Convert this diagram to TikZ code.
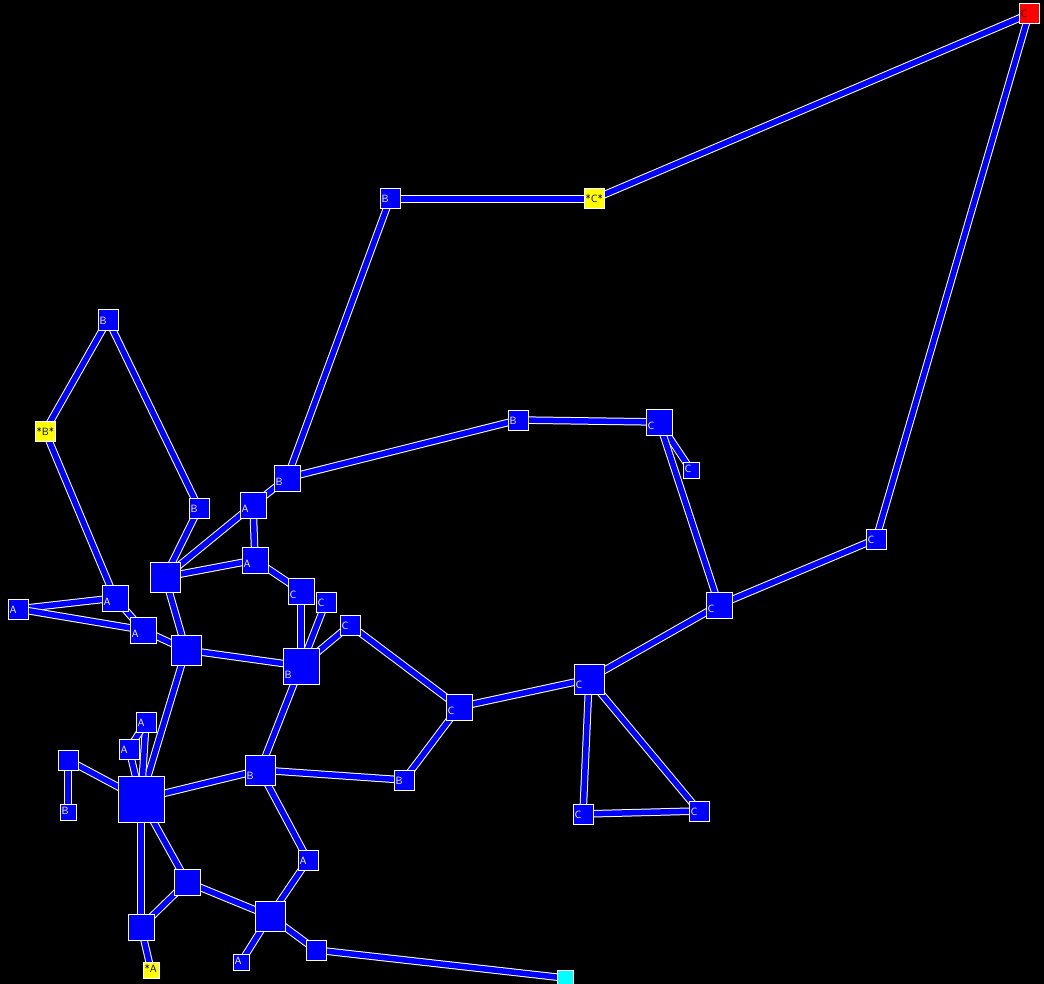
\documentclass[tikz,border=0pt]{standalone}
\usepackage{tikz}
\usetikzlibrary{positioning}
\definecolor{gBlue}{HTML}{0000FF}
\definecolor{gYellow}{HTML}{FFFF00}
\definecolor{gRed}{HTML}{FF0000}
\definecolor{gCyan}{HTML}{00FFFF}
\pgfdeclarelayer{back}
\pgfsetlayers{back,main}
\tikzset{
  box/.style={draw=white, line width=1pt, fill=gBlue, minimum size=#1, inner sep=0pt},
  tag/.style={anchor=base west, xshift=2pt, yshift=6.5pt, inner sep=0pt, font=\fontsize{10.5}{10.5}\sffamily, text=white},
  darktag/.style={tag, text=black},
  link/.style={draw=white, line width=1pt, double=gBlue, double distance=5.5pt},
}

\begin{document}
\begin{tikzpicture}[x=1pt, y=-1pt]
  \useasboundingbox (0,0) rectangle (1044,984);
  % nodes, left cluster
  \node[box=20pt, label={[tag]south west:A}] (a1) at (18,609) {};
  \node[box=26pt, label={[tag]south west:A}] (a2) at (115,598) {};
  \node[box=26pt, label={[tag]south west:A}] (a3) at (143,630) {};
  \node[box=30pt] (x1) at (186,650) {};
  \node[box=30pt] (x2) at (165,577) {};
  \node[box=20pt, label={[tag]south west:A}] (a4) at (146,722) {};
  \node[box=20pt, label={[tag]south west:A}] (a5) at (129,749) {};
  \node[box=20pt] (n1) at (68,760) {};
  \node[box=16pt, label={[tag]south west:B}] (b1) at (68,812) {};
  \node[box=46pt] (hub) at (141,799) {};
  \node[box=30pt, label={[tag]south west:B}] (b2) at (260,770) {};
  \node[box=20pt, label={[tag]south west:A}] (a6) at (308,860) {};
  \node[box=26pt] (m1) at (187,882) {};
  \node[box=26pt] (m2) at (141,927) {};
  \node[box=16pt, fill=gYellow, label={[darktag]south west:*A}] (sa) at (151,970) {};
  \node[box=30pt] (m3) at (270,916) {};
  \node[box=16pt, label={[tag]south west:A}] (a7) at (241,962) {};
  \node[box=20pt] (m4) at (316,950) {};
  \node[box=16pt, fill=gCyan] (cy) at (565,978) {};
  % nodes, middle
  \node[box=26pt, label={[tag]south west:B}] (b3) at (287,478) {};
  \node[box=26pt, label={[tag]south west:A}] (a8) at (253,505) {};
  \node[box=26pt, label={[tag]south west:A}] (a9) at (255,560) {};
  \node[box=26pt, label={[tag]south west:C}] (c1) at (301,591) {};
  \node[box=20pt, label={[tag]south west:C}] (c2) at (326,602) {};
  \node[box=20pt, label={[tag]south west:C}] (c3) at (350,625) {};
  \node[box=36pt, label={[tag]south west:B}] (b4) at (301,666) {};
  \node[box=20pt, label={[tag]south west:B}] (b5) at (199,508) {};
  \node[box=20pt, label={[tag]south west:B}] (b6) at (108,320) {};
  \node[box=20pt, fill=gYellow, label={[darktag]south west:*B*}] (sb) at (45,431) {};
  % nodes, top and right
  \node[box=20pt, label={[tag]south west:B}] (b7) at (390,199) {};
  \node[box=20pt, fill=gYellow, label={[darktag]south west:*C*}] (sc) at (594,199) {};
  \node[box=20pt, fill=gRed, label={[darktag]south west:C}] (rc) at (1029,14) {};
  \node[box=20pt, label={[tag]south west:B}] (b8) at (518,420) {};
  \node[box=26pt, label={[tag]south west:C}] (c4) at (659,422) {};
  \node[box=16pt, label={[tag]south west:C}] (c5) at (691,470) {};
  \node[box=26pt, label={[tag]south west:C}] (c6) at (719,605) {};
  \node[box=20pt, label={[tag]south west:C}] (c7) at (876,539) {};
  \node[box=26pt, label={[tag]south west:C}] (c8) at (459,707) {};
  \node[box=30pt, label={[tag]south west:C}] (c9) at (589,679) {};
  \node[box=20pt, label={[tag]south west:C}] (c10) at (583,814) {};
  \node[box=20pt, label={[tag]south west:C}] (c11) at (699,811) {};
  \node[box=20pt, label={[tag]south west:B}] (b9) at (404,780) {};
  % links
  \begin{pgfonlayer}{back}
    \fill[black] (0,0) rectangle (1044,984);
    \draw[link] (a1.center) -- (a2.center);
    \draw[link] (a1.center) -- (a3.center);
    \draw[link] (a2.center) -- (a3.center);
    \draw[link] (a2.center) -- (sb.center);
    \draw[link] (sb.center) -- (b6.center);
    \draw[link] (b6.center) -- (b5.center);
    \draw[link] (b5.center) -- (x2.center);
    \draw[link] (x2.center) -- (a8.center);
    \draw[link] (x2.center) -- (a9.center);
    \draw[link] (x2.center) -- (x1.center);
    \draw[link] (a3.center) -- (x1.center);
    \draw[link] (a8.center) -- (b3.center);
    \draw[link] (a8.center) -- (a9.center);
    \draw[link] (a9.center) -- (c1.center);
    \draw[link] (c1.center) -- (b4.center);
    \draw[link] (c2.center) -- (b4.center);
    \draw[link] (c3.center) -- (b4.center);
    \draw[link] (c3.center) -- (c8.center);
    \draw[link] (x1.center) -- (b4.center);
    \draw[link] (x1.center) -- (hub.center);
    \draw[link] (b3.center) -- (b7.center);
    \draw[link] (b3.center) -- (b8.center);
    \draw[link] (b7.center) -- (sc.center);
    \draw[link] (sc.center) -- (rc.center);
    \draw[link] (rc.center) -- (c7.center);
    \draw[link] (c7.center) -- (c6.center);
    \draw[link] (b8.center) -- (c4.center);
    \draw[link] (c4.center) -- (c5.center);
    \draw[link] (c4.center) -- (c6.center);
    \draw[link] (c6.center) -- (c9.center);
    \draw[link] (c9.center) -- (c8.center);
    \draw[link] (c9.center) -- (c10.center);
    \draw[link] (c9.center) -- (c11.center);
    \draw[link] (c10.center) -- (c11.center);
    \draw[link] (c8.center) -- (b9.center);
    \draw[link] (b9.center) -- (b2.center);
    \draw[link] (b4.center) -- (b2.center);
    \draw[link] (hub.center) -- (b2.center);
    \draw[link] (hub.center) -- (a4.center);
    \draw[link] (hub.center) -- (a5.center);
    \draw[link] (a4.center) -- (a5.center);
    \draw[link] (hub.center) -- (n1.center);
    \draw[link] (n1.center) -- (b1.center);
    \draw[link] (hub.center) -- (m1.center);
    \draw[link] (hub.center) -- (m2.center);
    \draw[link] (m1.center) -- (m2.center);
    \draw[link] (m1.center) -- (m3.center);
    \draw[link] (m2.center) -- (sa.center);
    \draw[link] (b2.center) -- (a6.center);
    \draw[link] (a6.center) -- (m3.center);
    \draw[link] (m3.center) -- (a7.center);
    \draw[link] (m3.center) -- (m4.center);
    \draw[link] (m4.center) -- (cy.center);
  \end{pgfonlayer}
\end{tikzpicture}
\end{document}
